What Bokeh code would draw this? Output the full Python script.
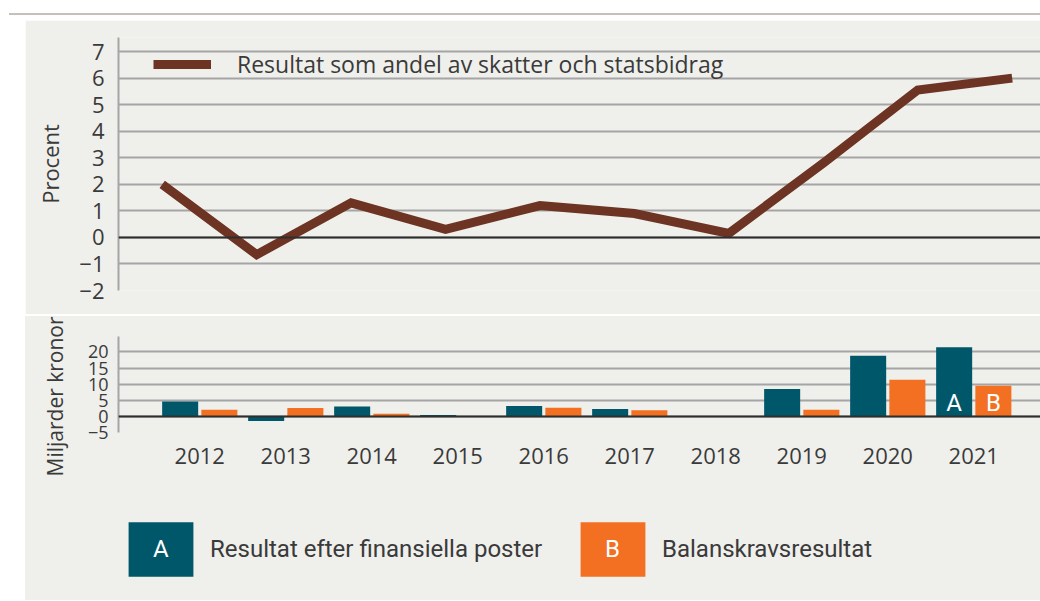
from bokeh.plotting import figure
from bokeh.models import (Range1d, FixedTicker, Span, Legend, LegendItem,
                          Title, Div, Spacer, ColumnDataSource)
from bokeh.layouts import column, row
from bokeh.transform import dodge
from bokeh.embed import file_html
from bokeh.resources import INLINE
from bokeh.core.properties import value

# ---------------- data ----------------
years = [2012, 2013, 2014, 2015, 2016, 2017, 2018, 2019, 2020, 2021]
year_labels = ["2012", "2013", "2014", "2015", "2016", "2017", "2018", "2019", "2020", "2021"]
share_pct = [2.0, -0.65, 1.3, 0.3, 1.2, 0.9, 0.15, 2.8, 5.55, 6.0]
result_fin = [4.6, -1.4, 3.1, 0.4, 3.2, 2.3, 0.0, 8.5, 18.8, 21.5]
balans = [2.1, 2.6, 0.8, 0.1, 2.7, 1.9, 0.0, 2.1, 11.4, 9.5]
pct_ticks = [-2, -1, 0, 1, 2, 3, 4, 5, 6, 7]
pct_labels = ["−2", "−1", "0", "1", "2", "3", "4", "5", "6", "7"]
bn_ticks = [-5, 0, 5, 10, 15, 20]
bn_labels = ["−5", "0", "5", "10", "15", "20"]
line_label = "Resultat som andel av skatter och statsbidrag"
bar_labels = ["Resultat efter finansiella poster", "Balanskravsresultat"]
bar_letters = ["A", "B"]

# ---------------- style ----------------
PANEL = "#efefeb"
GRID = "#a5a5a5"
ZERO = "#2e2e2e"
LINE = "#6d3423"
TEAL = "#00576a"
ORANGE = "#f37022"
TEXT = "#3a3a3a"
FONT = "Open Sans"
COND = "Roboto"
OFF = 0.228
BW = 0.419


def base_fig(**kw):
    return figure(output_backend="svg", toolbar_location=None,
                  background_fill_color=PANEL, border_fill_color=PANEL,
                  outline_line_color=None, **kw)


def style_y(p, ticks, labels, size, standoff):
    ax = p.yaxis[0]
    ax.ticker = FixedTicker(ticks=ticks)
    ax.major_label_overrides = dict(zip(ticks, labels))
    ax.major_label_text_font = FONT
    ax.major_label_text_font_size = size
    ax.major_label_text_color = TEXT
    ax.major_label_standoff = standoff
    ax.axis_line_color = GRID
    ax.axis_line_width = 2
    ax.major_tick_line_color = None
    ax.minor_tick_line_color = None
    ax.major_tick_out = 0
    ax.major_tick_in = 0
    ax.axis_label_text_font = FONT
    ax.axis_label_text_font_style = "normal"
    ax.axis_label_text_color = TEXT
    p.ygrid.grid_line_color = GRID
    p.ygrid.grid_line_width = 2
    p.xgrid.grid_line_color = None


def legend_kw(**kw):
    base = dict(padding=0, margin=0, spacing=0, background_fill_alpha=0,
                border_line_color=None)
    base.update(kw)
    return base


# ---------------- upper chart ----------------
p1 = base_fig(width=1015, height=294, x_range=Range1d(2011.537, 2021.30),
              y_range=Range1d(-2, 7.53), x_axis_location=None,
              min_border_left=93, min_border_right=0,
              min_border_top=17, min_border_bottom=24)
style_y(p1, pct_ticks, pct_labels, "22px", 14)
p1.yaxis[0].axis_label = "Procent"
p1.yaxis[0].axis_label_text_font_size = "22px"
p1.yaxis[0].axis_label_standoff = 11
p1.add_layout(Span(location=0, dimension="width", line_color=ZERO, line_width=2))
r_line = p1.line(years, share_pct, line_color=LINE, line_width=9, line_join="miter")
p1.add_layout(Legend(items=[LegendItem(label=line_label, renderers=[r_line])],
                     **legend_kw(location=(35, 210), glyph_width=58, glyph_height=32,
                                 label_height=32, label_standoff=26,
                                 label_text_font=FONT, label_text_font_size="23px",
                                 label_text_color=TEXT)))

# ---------------- lower chart ----------------
src = ColumnDataSource(dict(year=years, a=result_fin, b=balans))
p2 = base_fig(width=1015, height=164, x_range=Range1d(2011.055, 2021.776),
              y_range=Range1d(-5, 24.8), min_border_left=93, min_border_right=0,
              min_border_top=20, min_border_bottom=48)
style_y(p2, bn_ticks, bn_labels, "18px", 10)
p2.yaxis[0].major_label_text_baseline = "alphabetic"
p2.add_layout(Title(text="Miljarder kronor", align="left", offset=-44,
                    vertical_align="top", standoff=28, text_font=FONT,
                    text_font_size="21px", text_font_style="normal",
                    text_color=TEXT), "left")
xa = p2.xaxis[0]
xa.ticker = FixedTicker(ticks=years)
xa.major_label_overrides = dict(zip(years, year_labels))
xa.major_label_text_font = FONT
xa.major_label_text_font_size = "22px"
xa.major_label_text_color = TEXT
xa.major_label_standoff = 15
xa.axis_line_color = None
xa.major_tick_line_color = None
xa.minor_tick_line_color = None
xa.major_tick_out = 0
xa.major_tick_in = 0

p2.add_layout(Span(location=0, dimension="width", line_color=ZERO, line_width=2))
ra = p2.vbar(x=dodge("year", -OFF, range=p2.x_range), top="a", bottom=0, width=BW,
             source=src, fill_color=TEAL, line_color=None)
rb = p2.vbar(x=dodge("year", OFF, range=p2.x_range), top="b", bottom=0, width=BW,
             source=src, fill_color=ORANGE, line_color=None)
p2.text(x=[years[-1] - OFF, years[-1] + OFF], y=[4.3, 4.3], text=bar_letters,
        text_color="white", text_font=value(COND), text_font_size="24px",
        text_align="center", text_baseline="middle")

# ---------------- legend strip (same data only used as swatches) ----------------
p3 = base_fig(width=1015, height=120, x_range=Range1d(0, 922), y_range=Range1d(0, 120),
              x_axis_location=None, y_axis_location=None, min_border_left=93,
              min_border_right=0, min_border_top=0, min_border_bottom=0)
p3.xgrid.grid_line_color = None
p3.ygrid.grid_line_color = None
la = p3.vbar(x="year", top="a", width=BW, source=src, fill_color=TEAL, line_color=None)
lb = p3.vbar(x="year", top="b", width=BW, source=src, fill_color=ORANGE, line_color=None)
p3.add_layout(Legend(items=[LegendItem(label=bar_labels[0], renderers=[la]),
                            LegendItem(label=bar_labels[1], renderers=[lb])],
                     **legend_kw(orientation="horizontal", location=(2, 17),
                                 glyph_width=81, glyph_height=68, label_height=68,
                                 label_width=362, label_standoff=9,
                                 label_text_font=COND, label_text_font_size="24px",
                                 label_text_color=TEXT)))
# white letters drawn on top of the swatches (zero-width glyph legends)
for lx, letter, rend in [(35, bar_letters[0], la), (487, bar_letters[1], lb)]:
    p3.add_layout(Legend(items=[LegendItem(label=letter, renderers=[rend])],
                         **legend_kw(location=(lx, 17), glyph_width=0, glyph_height=68,
                                     label_height=68, label_standoff=0,
                                     label_text_font=COND, label_text_font_size="24px",
                                     label_text_color="white")))

header = Div(text='<div style="margin:13px 0 0 9px;height:2px;width:1031px;'
                  'background:#c6c0ba"></div>', width=1040, height=20, margin=0)

lower = column(p2, p3, spacing=0, styles={"background-color": PANEL})
layout = column(header,
                row(Spacer(width=25, height=294, margin=0), p1, spacing=0),
                Spacer(width=1040, height=2, margin=0),
                row(Spacer(width=25, height=284, margin=0), lower, spacing=0),
                spacing=0)

open("out.html", "w").write(file_html(layout, INLINE))
